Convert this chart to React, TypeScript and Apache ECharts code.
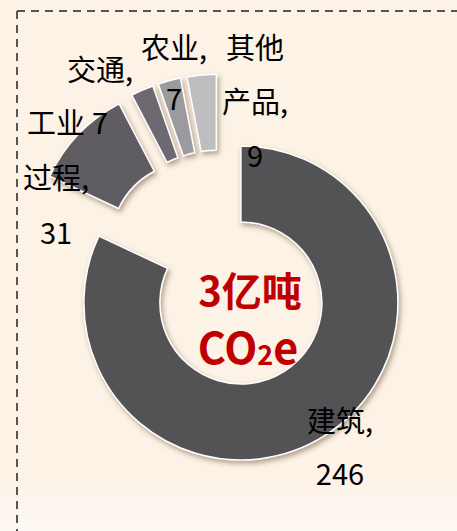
import React, { useEffect, useRef } from "react";
import * as echarts from "echarts";

const categories = ["建筑", "工业过程", "交通", "农业", "其他产品"];
const values = [246, 31, 7, 7, 9];
const labelNames = ["建筑", "工业\n过程", "交通", "农业", "其他\n产品"];
const centerLines = ["3亿吨", "CO2e"];

const colors = ["#525257", "#5E5D62", "#6C6B70", "#9B9A9E", "#BEBEC0"];
const labelPos = [
  [340, 445],
  [56, 176],
  [100, 94],
  [174, 71],
  [255, 100],
];
const labelLineHeights = [53, 55, 53, 51, 54];

export default function App() {
  const ref = useRef<HTMLDivElement>(null);
  useEffect(() => {
    if (!ref.current) return;
    const chart = echarts.init(ref.current, null, { renderer: "svg" });
    const labelGraphics = categories.map((name, i) => ({
      type: "text",
      x: labelPos[i][0],
      y: labelPos[i][1],
      z: 100,
      style: {
        text: `${labelNames[i]},\n${values[i]}`,
        fill: "#000000",
        font: "29px 'Noto Sans CJK SC'",
        lineHeight: labelLineHeights[i],
        align: "center",
        verticalAlign: "middle",
      },
    }));
    const option: any = {
      animation: false,
      backgroundColor: new echarts.graphic.LinearGradient(0, 0, 0, 1, [
        { offset: 0, color: "#FCF2E6" },
        { offset: 0.9, color: "#FCF2E6" },
        { offset: 1, color: "#FEF9F4" },
      ]),
      graphic: [
        {
          type: "line",
          shape: { x1: 17, y1: 11, x2: 17, y2: 531 },
          style: { stroke: "#555555", lineWidth: 2, lineDash: [8, 6] },
        },
        {
          type: "line",
          shape: { x1: 17, y1: 11, x2: 457, y2: 11 },
          style: { stroke: "#555555", lineWidth: 2, lineDash: [8, 6] },
        },
        {
          type: "text",
          x: 250,
          y: 289,
          style: {
            text: centerLines[0],
            fill: "#C00000",
            font: "bold 40px 'Noto Sans CJK SC'",
            lineHeight: 40,
            align: "center",
            verticalAlign: "middle",
          },
          z: 100,
        },
        {
          type: "text",
          x: 248,
          y: 345,
          style: {
            text: "{a|CO}{b|2}{a|e}",
            align: "center",
            verticalAlign: "middle",
            rich: {
              a: {
                fill: "#C00000",
                fontSize: 43,
                lineHeight: 43,
                fontWeight: "bold",
                fontFamily: "Noto Sans CJK SC",
                verticalAlign: "bottom",
              },
              b: {
                fill: "#C00000",
                fontSize: 27,
                lineHeight: 43,
                fontWeight: "bold",
                fontFamily: "Noto Sans CJK SC",
                verticalAlign: "bottom",
              },
            },
          },
          z: 100,
        },
        ...labelGraphics,
      ],
      series: [
        {
          type: "pie",
          center: [220, 270],
          radius: [81, 157],
          startAngle: 90,
          clockwise: true,
          selectedMode: "multiple",
          selectedOffset: 39,
          avoidLabelOverlap: false,
          emphasis: { disabled: true },
          itemStyle: {
            borderColor: "#FFFFFF",
            borderWidth: 1.5,
            shadowBlur: 5,
            shadowColor: "rgba(110,80,50,0.5)",
            shadowOffsetX: 2,
            shadowOffsetY: 3,
          },
          label: { show: false },
          labelLine: { show: false },
          data: categories.map((name, i) => ({
            name,
            value: values[i],
            selected: true,
            itemStyle: { color: colors[i] },
          })),
        },
      ],
    };
    chart.setOption(option);
    return () => chart.dispose();
  }, []);
  return (
    <div
      ref={ref}
      style={{ position: "fixed", left: 0, top: 0, width: 457, height: 531 }}
    />
  );
}
